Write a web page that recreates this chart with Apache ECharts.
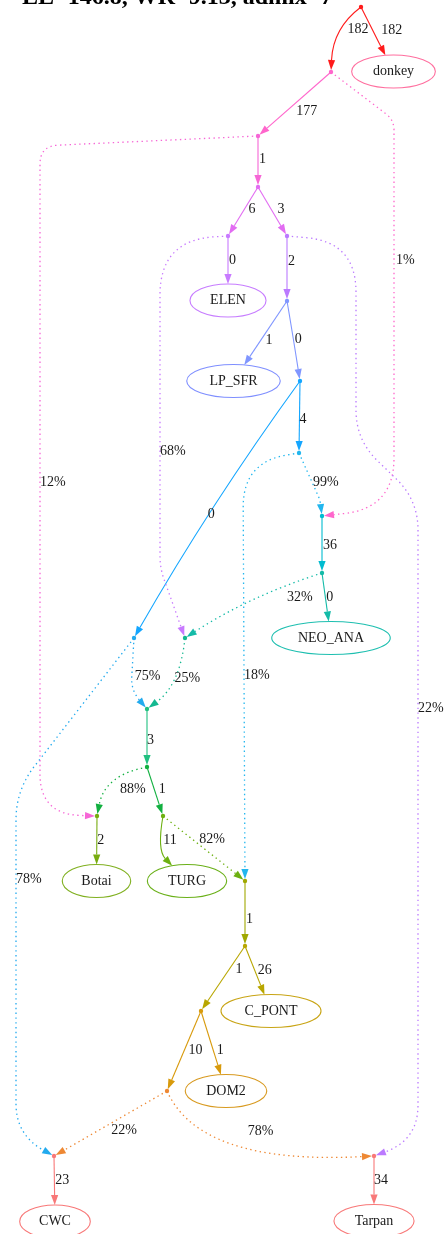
<!DOCTYPE html>
<html>
<head>
<meta charset="utf-8">
<script src="https://cdn.jsdelivr.net/npm/echarts@6/dist/echarts.min.js"></script>
<style>
html, body { margin: 0; padding: 0; background: #fff; }
#chart { width: 447px; height: 1234px; }
</style>
</head>
<body>
<div id="chart"></div>
<script>
var chartTitle = 'LL=146.8, WR=9.13, admix=7';

// populations at the tips of the graph
var leafNames = ['donkey', 'ELEN', 'LP_SFR', 'NEO_ANA', 'Botai', 'TURG', 'C_PONT', 'DOM2', 'CWC', 'Tarpan'];

// drift edges (solid), label = drift x 1000
var driftFrom   = ['R', 'R', 'n1', 'n2', 'n3', 'n3', 'n4', 'n5', 'n6', 'n6', 'n7', 'n7', 'a1', 'n9', 'n12', 'n13', 'n14', 'a2', 'n15', 'n16', 'n16', 'n17', 'n17', 'a3', 'a4'];
var driftTo     = ['n1', 'donkey', 'n2', 'n3', 'n4', 'n5', 'ELEN', 'n6', 'LP_SFR', 'n7', 'n8', 'n10', 'n9', 'NEO_ANA', 'n13', 'n14', 'TURG', 'Botai', 'n16', 'n17', 'C_PONT', 'n18', 'DOM2', 'CWC', 'Tarpan'];
var driftValues = [182, 182, 177, 1, 6, 3, 0, 2, 1, 0, 4, 0, 36, 0, 3, 1, 11, 2, 1, 1, 26, 10, 1, 23, 34];

// admixture edges (dotted), label = weight in %
var admixFrom    = ['n1', 'n2', 'n4', 'n5', 'n8', 'n8', 'n9', 'n10', 'n11', 'n10', 'n13', 'n14', 'n18', 'n18'];
var admixTo      = ['a1', 'a2', 'n11', 'a4', 'a1', 'n15', 'n11', 'n12', 'n12', 'a3', 'a2', 'n15', 'a3', 'a4'];
var admixWeights = [1, 12, 68, 22, 99, 18, 32, 75, 25, 78, 88, 82, 22, 78];

// dot layout of the nodes (x right, y down)
var nodePos = {
  R: [361, 7], n1: [331, 72], donkey: [393.5, 71.5], n2: [258, 136], n3: [258, 187],
  n4: [228, 236], n5: [287, 236], ELEN: [228, 300.5], n6: [287, 301], LP_SFR: [233.5, 381],
  n7: [300, 381], n8: [299, 453], a1: [322, 516], n9: [322, 573], NEO_ANA: [331, 638],
  n10: [134, 638], n11: [185, 638], n12: [147, 709], n13: [147, 767], n14: [163, 816],
  a2: [97, 816], Botai: [96.5, 881], TURG: [187, 881], n15: [245, 881], n16: [245, 946],
  C_PONT: [271, 1011], n17: [201, 1011], DOM2: [226, 1091], n18: [167, 1091],
  a3: [54, 1156], a4: [374, 1156], CWC: [55, 1221.5], Tarpan: [374, 1221]
};

// spline routing and label placement per edge
var routes = {
  'R>n1': { ctrl: [333, 28], dx: 8, dy: -4 },
  'R>donkey': { dx: 8, dy: -1 },
  'n1>n2': { dx: 1, dy: 7.5 },
  'n2>n3': { dx: 1, dy: -1 },
  'n3>n4': { dx: 5, dy: -1.5 },
  'n3>n5': { dx: 5.5, dy: -1.5 },
  'n4>ELEN': { dx: 1 },
  'n5>n6': { dx: 1, dy: -6 },
  'n6>LP_SFR': { dx: 0, dy: 7 },
  'n6>n7': { ctrl: [292, 330], dx: 2, dy: 4.5 },
  'n7>n8': { dx: 0, dy: 3 },
  'n7>n10': { ctrl: [210, 505], dx: -6, dy: 8 },
  'a1>n9': { dx: 1, dy: 2 },
  'n9>NEO_ANA': { dx: 1 },
  'n12>n13': { dx: 0, dy: 3 },
  'n13>n14': { dx: 4, dy: -1.5 },
  'n14>TURG': { ctrl: [157, 850], dx: 1, dy: -5 },
  'a2>Botai': { dx: 0.5 },
  'n15>n16': { dx: 1, dy: 7 },
  'n16>n17': { dx: 12, dy: -8 },
  'n16>C_PONT': { dx: 3 },
  'n17>n18': { dx: 4 },
  'n17>DOM2': { dx: 5.7, dy: 8 },
  'a3>CWC': { dx: 1 },
  'a4>Tarpan': { dx: 0 },
  'n1>a1': { via: [[394, 120, 10], [394, 508, 50]], lt: 0.409, dx: 2 },
  'n2>a2': { via: [[40, 146, 18], [40, 814, 40]], lt: 0.589, dx: 0 },
  'n4>n11': { via: [[160, 240, 55], [160, 568, 12]], lt: 0.5955, dx: 0 },
  'n5>a4': { via: [[356, 242, 50], [356, 440, 30], [418, 500, 30], [418, 1140, 40]], lt: 0.5408, dx: 0 },
  'n8>a1': { via: [[320, 500, 15]], lt: 0.486, dx: 1 },
  'n8>n15': { via: [[243, 462, 45]], lt: 0.571, dx: 0 },
  'n9>n11': { ctrl: [250, 596], lt: 0.2, dx: -6.5, dy: 14 },
  'n10>n12': { via: [[131, 690, 20]], lt: 0.507, dx: 3 },
  'n11>n12': { ctrl: [180, 685], dx: 1, dy: -1 },
  'n10>a3': { via: [[16, 790, 30], [16, 1135, 40]], lt: 0.486, dx: 0 },
  'n13>a2': { ctrl: [105, 775], dx: 6.5, dy: 7 },
  'n14>n15': { dx: -4, dy: -8.5 },
  'n18>a3': { dx: 0, dy: 7.5 },
  'n18>a4': { ctrl: [200, 1165], dx: 13, dy: -13 }
};

var nodeColors = {
  R: '#ff1a1a', n1: '#ff66cc', donkey: '#ff6f9f', n2: '#f666d6', n3: '#e26cf2',
  n4: '#c87aff', n5: '#bb7aff', ELEN: '#c77dff', n6: '#8096ff', LP_SFR: '#7f8fff',
  n7: '#14a6ff', n8: '#22b6ee', a1: '#00bcd0', n9: '#14bba8', NEO_ANA: '#1ebfb0',
  n10: '#22aaee', n11: '#14b890', n12: '#20c080', n13: '#12b040', n14: '#6cb010',
  a2: '#78ac10', Botai: '#80b020', TURG: '#6ab018', n15: '#a0a800', n16: '#b8a600',
  C_PONT: '#c8a414', n17: '#d89a0c', DOM2: '#d89a20', n18: '#ee8833',
  a3: '#f87878', a4: '#f87878', CWC: '#f87878', Tarpan: '#f87878'
};

var nodeNames = Object.keys(nodePos);
var edges = [];
driftFrom.forEach(function (f, i) {
  edges.push({ from: f, to: driftTo[i], label: String(driftValues[i]), dotted: false });
});
admixFrom.forEach(function (f, i) {
  edges.push({ from: f, to: admixTo[i], label: admixWeights[i] + '%', dotted: true });
});

var SERIF = '"Liberation Serif", "Times New Roman", Times, serif';
var ARROW_LEN = 10;
var ARROW_HALF = 3.6;

var measureCtx = document.createElement('canvas').getContext('2d');
measureCtx.font = '14px ' + SERIF;
function leafRadius(name) {
  var w = measureCtx.measureText(name).width;
  return [(1.4 * w + 26) / 2, 16.5];
}

function sub(a, b) { return [a[0] - b[0], a[1] - b[1]]; }
function len(v) { return Math.sqrt(v[0] * v[0] + v[1] * v[1]); }
function unit(v) { var l = len(v) || 1; return [v[0] / l, v[1] / l]; }
function along(p, u, d) { return [p[0] + u[0] * d, p[1] + u[1] * d]; }
function fmt(p) { return p[0].toFixed(2) + ' ' + p[1].toFixed(2); }

// polyline with rounded corners, last point is the arrow base
function roundedPath(pts) {
  var d = 'M ' + fmt(pts[0]);
  var n = pts.length;
  for (var i = 1; i < n - 1; i++) {
    var p = pts[i];
    var lp = len(sub(p, pts[i - 1]));
    var ln = len(sub(pts[i + 1], p));
    var r = Math.min(p[2] || 0, i === 1 ? lp : lp / 2, i === n - 2 ? ln : ln / 2);
    var a = along(p, unit(sub(pts[i - 1], p)), r);
    var b = along(p, unit(sub(pts[i + 1], p)), r);
    d += ' L ' + fmt(a) + ' Q ' + fmt(p) + ' ' + fmt(b);
  }
  d += ' L ' + fmt(pts[n - 1]);
  return d;
}

function pointAt(pts, t) {
  var total = 0, i;
  for (i = 1; i < pts.length; i++) total += len(sub(pts[i], pts[i - 1]));
  var target = total * t;
  for (i = 1; i < pts.length; i++) {
    var l = len(sub(pts[i], pts[i - 1]));
    if (target <= l || i === pts.length - 1) {
      var k = l ? Math.min(target / l, 1) : 0;
      return [pts[i - 1][0] + (pts[i][0] - pts[i - 1][0]) * k, pts[i - 1][1] + (pts[i][1] - pts[i - 1][1]) * k];
    }
    target -= l;
  }
  return pts[0];
}

function renderEdge(params, api) {
  var e = edges[api.value(2)];
  var route = routes[e.from + '>' + e.to] || {};
  var start = api.coord([api.value(0), api.value(1)]);
  var centre = api.coord(nodePos[e.to]);
  var vias = (route.via || []).map(function (v) {
    var p = api.coord([v[0], v[1]]);
    return [p[0], p[1], v[2]];
  });
  var ctrl = route.ctrl ? api.coord(route.ctrl) : null;
  var prev = ctrl || (vias.length ? vias[vias.length - 1] : start);
  var end;
  if (leafNames.indexOf(e.to) >= 0) {
    var rr = leafRadius(e.to);
    var dv = sub(prev, centre);
    var s = 1 / Math.sqrt(Math.pow(dv[0] / rr[0], 2) + Math.pow(dv[1] / rr[1], 2));
    end = [centre[0] + dv[0] * s, centre[1] + dv[1] * s];
  } else {
    end = along(centre, unit(sub(prev, centre)), 2);
  }
  var u = unit(sub(end, prev));
  var base = along(end, u, -ARROW_LEN);
  var perp = [-u[1], u[0]];
  var lt = route.lt != null ? route.lt : 0.5;
  var pathData, lp;
  if (ctrl) {
    pathData = 'M ' + fmt(start) + ' Q ' + fmt(ctrl) + ' ' + fmt(base);
    lp = [
      (1 - lt) * (1 - lt) * start[0] + 2 * lt * (1 - lt) * ctrl[0] + lt * lt * end[0],
      (1 - lt) * (1 - lt) * start[1] + 2 * lt * (1 - lt) * ctrl[1] + lt * lt * end[1]
    ];
  } else {
    pathData = roundedPath([start].concat(vias).concat([base]));
    lp = pointAt([start].concat(vias).concat([end]), lt);
  }
  var col = nodeColors[e.from];
  return {
    type: 'group',
    children: [
      {
        type: 'path',
        shape: { pathData: pathData },
        style: {
          fill: 'none', stroke: col,
          lineWidth: e.dotted ? 1.3 : 1.1,
          lineDash: e.dotted ? [1.4, 3.4] : null
        }
      },
      {
        type: 'polygon',
        shape: { points: [end, along(base, perp, ARROW_HALF), along(base, perp, -ARROW_HALF)] },
        style: { fill: col }
      },
      {
        type: 'text',
        style: {
          text: e.label,
          x: lp[0] + (route.dx != null ? route.dx : 2),
          y: lp[1] + (route.dy || 0),
          fill: '#1a1a1a', fontSize: 14, fontFamily: SERIF,
          align: 'left', verticalAlign: 'middle'
        }
      }
    ]
  };
}

function renderNode(params, api) {
  var name = nodeNames[api.value(2)];
  var p = api.coord([api.value(0), api.value(1)]);
  var col = nodeColors[name];
  if (leafNames.indexOf(name) >= 0) {
    var rr = leafRadius(name);
    return {
      type: 'group',
      children: [
        { type: 'ellipse', shape: { cx: p[0], cy: p[1], rx: rr[0], ry: rr[1] },
          style: { fill: 'none', stroke: col, lineWidth: 1.1 } },
        { type: 'text', style: { text: name, x: p[0], y: p[1], fill: '#1a1a1a',
          fontSize: 14, fontFamily: SERIF, align: 'center', verticalAlign: 'middle' } }
      ]
    };
  }
  return { type: 'circle', shape: { cx: p[0], cy: p[1], r: 2.2 }, style: { fill: col } };
}

var chart = echarts.init(document.getElementById('chart'));
chart.setOption({
  animation: false,
  backgroundColor: '#fff',
  title: {
    text: chartTitle,
    left: 22,
    top: -14,
    padding: 0,
    textStyle: { fontFamily: SERIF, fontWeight: 'bold', fontSize: 24, color: '#000' }
  },
  grid: { left: 0, right: 0, top: 0, bottom: 0 },
  xAxis: { type: 'value', min: 0, max: 447, show: false },
  yAxis: { type: 'value', min: 0, max: 1234, inverse: true, show: false },
  series: [
    {
      type: 'custom',
      name: 'edges',
      silent: true,
      clip: false,
      renderItem: renderEdge,
      data: edges.map(function (e, i) { return [nodePos[e.from][0], nodePos[e.from][1], i]; })
    },
    {
      type: 'custom',
      name: 'nodes',
      silent: true,
      clip: false,
      renderItem: renderNode,
      data: nodeNames.map(function (n, i) { return [nodePos[n][0], nodePos[n][1], i]; })
    }
  ]
});
</script>
</body>
</html>
